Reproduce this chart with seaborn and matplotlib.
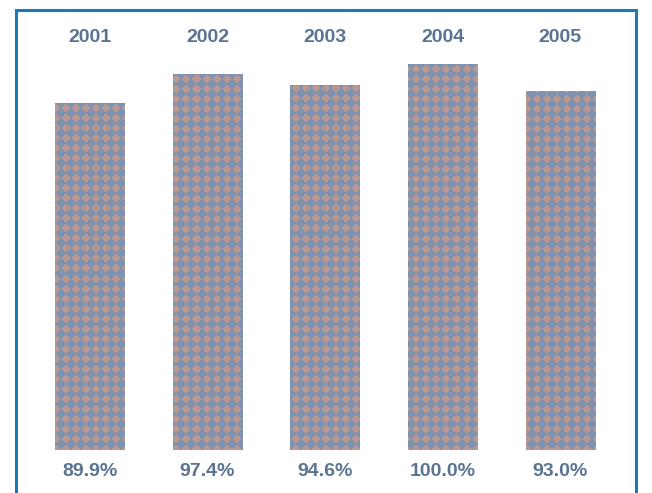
import numpy as np
import pandas as pd
import seaborn as sns
import matplotlib.pyplot as plt
from matplotlib.patches import Rectangle

years = ['2001', '2002', '2003', '2004', '2005']
values = [89.9, 97.4, 94.6, 100.0, 93.0]
labels = ['89.9%', '97.4%', '94.6%', '100.0%', '93.0%']

df = pd.DataFrame({'year': years, 'value': values})

sns.set_style('white')
plt.rcParams['font.family'] = ['Liberation Sans', 'DejaVu Sans']

W, H = 652, 493
fig = plt.figure(figsize=(W / 100, H / 100), dpi=100)
# axes: x from 31 to 619 px, y from 64 to 450 px (from top)
ax = fig.add_axes([31 / W, (H - 450) / H, (619 - 31) / W, (450 - 64) / H])

sns.barplot(data=df, x='year', y='value', ax=ax, width=0.59,
            color='#7f93b0', saturation=1, edgecolor='none')
ax.set_xlim(-0.5, 4.5)
ax.set_ylim(0, 100)
ax.axis('off')

# diamond texture (rotated checker) for the bars
blue = np.array([0x7f, 0x93, 0xb0]) / 255
pink = np.array([0xba, 0x98, 0x90]) / 255
aw, ah = 619 - 31, 450 - 64
yy, xx = np.mgrid[0:ah, 0:aw]
period = 10
d = np.abs(xx % period - period / 2 + 0.5) + np.abs(yy % period - period / 2 + 0.5)
mask = d < period / 2
tex = np.where(mask[..., None], pink, blue)
for p in ax.patches:
    im = ax.imshow(tex, extent=(-0.5, 4.5, 0, 100), aspect='auto',
                   interpolation='none', zorder=3)
    im.set_clip_path(p)
ax.set_xlim(-0.5, 4.5)
ax.set_ylim(0, 100)

txt_color = '#5b7392'
for i, (yr, lab) in enumerate(zip(years, labels)):
    ax.text(i, (450 - 38) / ah, yr, transform=ax.get_xaxis_transform(),
            ha='center', va='center', fontsize=14, fontweight='bold',
            color=txt_color, clip_on=False)
    ax.text(i, (450 - 471) / ah, lab, transform=ax.get_xaxis_transform(),
            ha='center', va='center', fontsize=14, fontweight='bold',
            color=txt_color, clip_on=False)

# blue frame around the chart
frame = Rectangle((15.5 / W, -0.02), (636 - 15.5) / W, (H - 9.5) / H + 0.02,
                  transform=fig.transFigure, fill=False,
                  edgecolor='#1a7ab8', linewidth=2.2, clip_on=False)
fig.patches.append(frame)

plt.savefig('out.png', dpi=100)
